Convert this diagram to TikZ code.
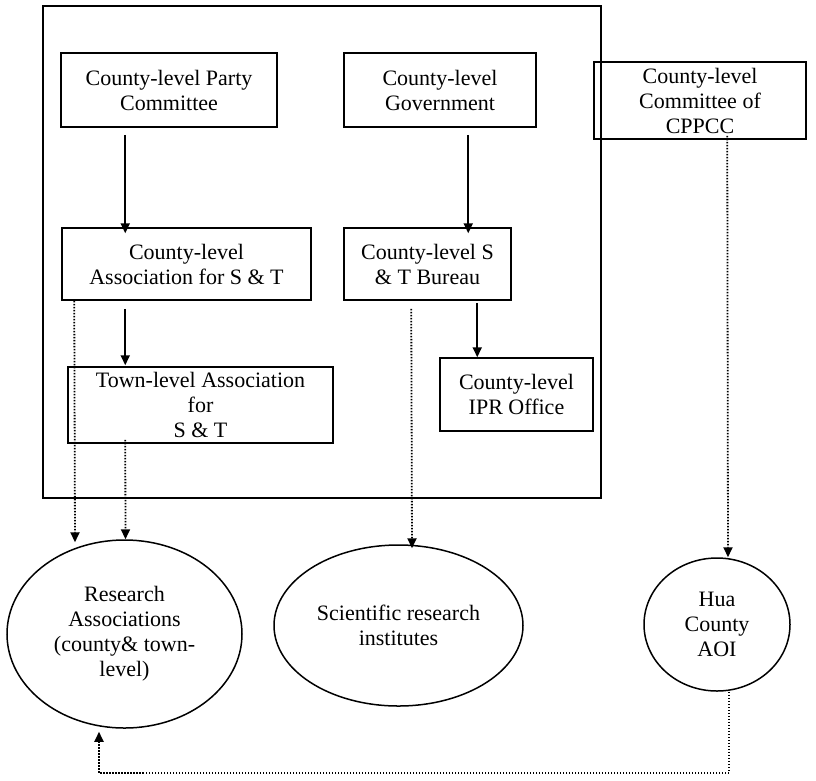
\documentclass[tikz,border=0pt]{standalone}
\usepackage{fontspec}
\setmainfont{Liberation Serif}
\usepackage{tikz}
\usetikzlibrary{arrows.meta,shapes.geometric}

\begin{document}
\begin{tikzpicture}[x=1pt,y=-1pt,>={Triangle[length=10pt,width=9pt]},
  unit/.style={draw=black,line width=1.5pt,align=center,inner sep=0pt,font=\fontsize{22}{25}\selectfont},
  body/.style={draw=black,ellipse,line width=1.5pt,align=center,inner sep=0pt,font=\fontsize{22}{25}\selectfont},
  order/.style={->,line width=1.8pt},
  link/.style={->,line width=1.8pt,dash pattern=on 1.5pt off 1.5pt}]
\useasboundingbox (0,0) rectangle (816,780);
\draw[line width=1.5pt] (43,6) rectangle (601,498);
\node[unit,minimum width=216pt,minimum height=74pt] (party) at (169,90) {County-level Party\\Committee};
\node[unit,minimum width=192pt,minimum height=74pt] (gov) at (440,90) {County-level\\Government};
\node[unit,minimum width=212pt,minimum height=77pt] (cppcc) at (700,100.5) {County-level\\Committee of\\CPPCC};
\node[unit,minimum width=249pt,minimum height=72pt] (assoc) at (186.5,264) {County-level\\Association for S \& T};
\node[unit,minimum width=167pt,minimum height=72pt] (bureau) at (427.5,264) {County-level S\\\& T Bureau};
\node[unit,minimum width=153pt,minimum height=73pt] (ipr) at (516.5,394.5) {County-level\\IPR Office};
\node[unit,minimum width=265pt,minimum height=76pt] (town) at (200.5,405) {Town-level Association\\for\\S \& T};
\node[body,minimum width=235pt,minimum height=188pt] (resassoc) at (124.5,634) {Research\\Associations\\(county\& town-\\level)};
\node[body,minimum width=249pt,minimum height=161pt] (sciinst) at (398.5,625.5) {Scientific research\\institutes};
\node[body,minimum width=146pt,minimum height=133pt] (aoi) at (717,624.5) {Hua\\County\\AOI};
% solid lines: leadership
\draw[order] ([xshift=65pt,yshift=-7pt]party.south west) -- ([xshift=64pt,yshift=-6pt]assoc.north west);
\draw[order] ([xshift=125pt,yshift=-7pt]gov.south west) -- ([xshift=125pt,yshift=-6pt]bureau.north west);
\draw[order] ([xshift=134pt,yshift=-2pt]bureau.south west) -- ([xshift=38pt]ipr.north west);
\draw[order] ([xshift=64pt,yshift=-8pt]assoc.south west) -- ([xshift=58pt,yshift=1pt]town.north west);
% dotted lines: guidance
\draw[link] ([xshift=13pt]assoc.south west) -- ([xshift=-49.5pt,yshift=-3pt]resassoc.north);
\draw[link] ([xshift=58pt,yshift=4pt]town.south west) -- ([xshift=1pt]resassoc.north);
\draw[link] ([xshift=68pt,yshift=-8pt]bureau.south west) -- ([xshift=13.5pt,yshift=-4pt]sciinst.north);
\draw[link] ([xshift=134pt,yshift=4pt]cppcc.south west) -- ([xshift=11pt]aoi.north);
\draw[link] ([xshift=12pt]aoi.south) -- ++(0,81) -| ([xshift=-25.5pt,yshift=-3pt]resassoc.south);
\end{tikzpicture}
\end{document}
